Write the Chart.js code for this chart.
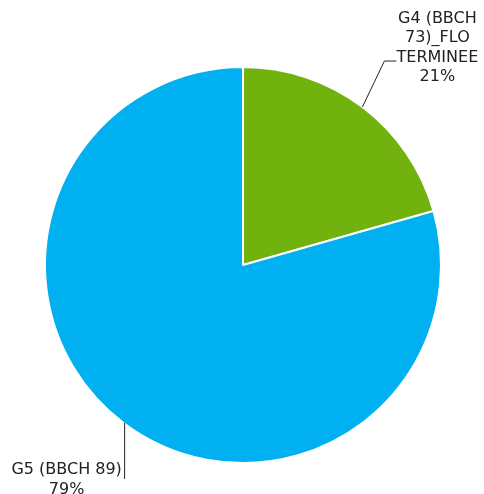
<!DOCTYPE html>
<html>
<head>
<meta charset="utf-8">
<script src="https://cdn.jsdelivr.net/npm/chart.js@4"></script>
<style>
  html, body { margin: 0; padding: 0; background: #fff; }
  #wrap { width: 484px; height: 494px; }
</style>
</head>
<body>
<div id="wrap"><canvas id="pie"></canvas></div>
<script>
const labels = ["G4 (BBCH 73)_FLO TERMINEE", "G5 (BBCH 89)"];
const labelLines = [["G4 (BBCH", "73)_FLO", "TERMINEE"], ["G5 (BBCH 89)"]];
const values = [20.6, 79.4];
const colors = ["#71b20e", "#00b0f0"];

// leader lines + labels outside the slices
const outLabels = {
  id: "outLabels",
  afterDraw(chart) {
    const ctx = chart.ctx;
    const arcs = chart.getDatasetMeta(0).data;
    const total = values.reduce((a, b) => a + b, 0);
    ctx.save();
    ctx.font = "16px 'DejaVu Sans', Verdana, sans-serif";
    ctx.fillStyle = "#222";
    ctx.strokeStyle = "#222";
    ctx.lineWidth = 1;
    ctx.textAlign = "center";
    ctx.textBaseline = "middle";
    arcs.forEach((arc, i) => {
      const mid = (arc.startAngle + arc.endAngle) / 2;
      const px = arc.x + Math.cos(mid) * arc.outerRadius;
      const py = arc.y + Math.sin(mid) * arc.outerRadius;
      const pct = Math.round(values[i] / total * 100) + "%";
      const lines = labelLines[i].concat([pct]);
      ctx.beginPath();
      if (Math.cos(mid) >= 0) {
        // right side: diagonal up then short horizontal
        const ex = px + 22, ey = py - 46;
        ctx.moveTo(px, py);
        ctx.lineTo(ex, ey);
        ctx.lineTo(ex + 12, ey);
        ctx.stroke();
        const cx = ex + 53;
        const top = ey - 42;
        lines.forEach((t, k) => ctx.fillText(t, cx, top + k * 19.3));
      } else {
        // left side: straight down
        const ex = px + 1, ey = py + 56;
        ctx.moveTo(ex, py);
        ctx.lineTo(ex, ey);
        ctx.stroke();
        const cx = ex - 58;
        const top = py + 47;
        lines.forEach((t, k) => ctx.fillText(t, cx, top + k * 20));
      }
    });
    ctx.restore();
  }
};

new Chart(document.getElementById("pie"), {
  type: "pie",
  data: {
    labels: labels,
    datasets: [{
      data: values,
      backgroundColor: colors,
      borderColor: "#ffffff",
      borderWidth: 2
    }]
  },
  options: {
    responsive: true,
    maintainAspectRatio: false,
    animation: false,
    layout: { padding: { top: 66, bottom: 30, left: 44, right: 42 } },
    plugins: {
      legend: { display: false },
      tooltip: { enabled: false }
    }
  },
  plugins: [outLabels]
});
</script>
</body>
</html>
